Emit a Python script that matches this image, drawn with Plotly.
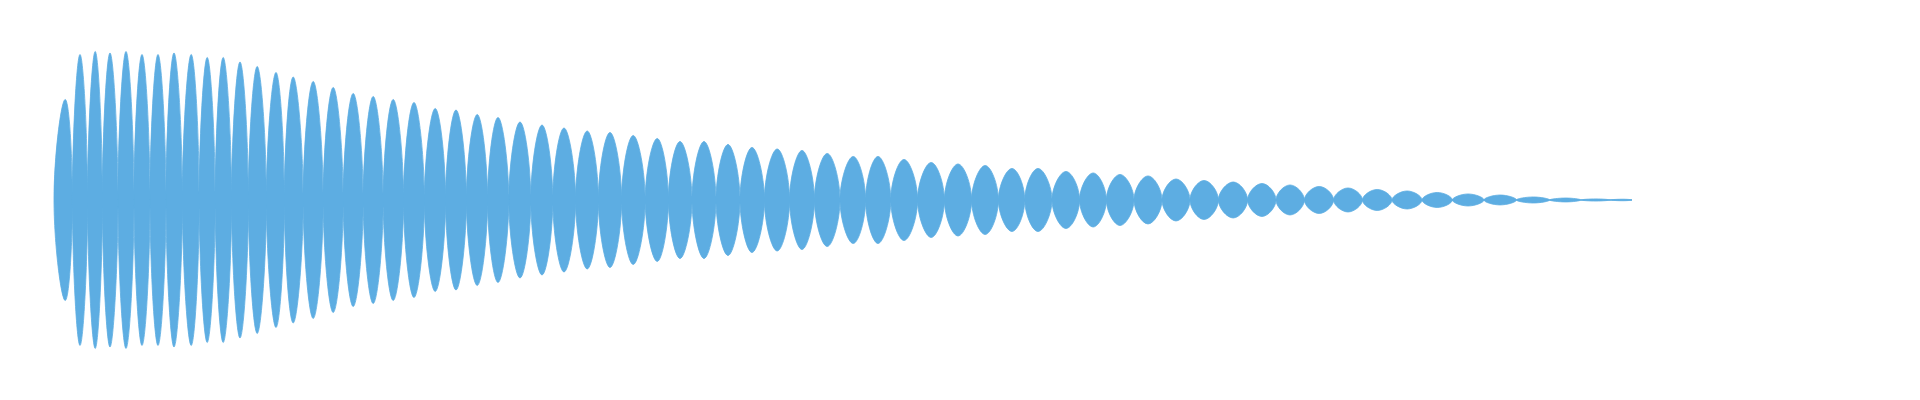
import plotly.graph_objects as go

# envelope: time in ms, amplitude normalised to full scale
peak_ms = [28, 65, 103, 140, 180, 220, 260, 300, 343, 383,
           423, 465, 508, 555, 598, 648, 698, 748, 798, 848,
           900, 953, 1005, 1058, 1110, 1165, 1220, 1275, 1333, 1390,
           1448, 1508, 1565, 1625, 1685, 1745, 1808, 1870, 1933, 1998,
           2060, 2125, 2193, 2260, 2328, 2395, 2460, 2530, 2598, 2665,
           2735, 2805, 2875, 2948, 3020, 3090, 3163, 3235, 3308, 3383,
           3458, 3535, 3615, 3698, 3780, 3855, 3925]
peak_amp = [0.67, 0.97, 0.99, 0.98, 0.99, 0.97, 0.97, 0.98, 0.97, 0.95,
            0.95, 0.92, 0.89, 0.85, 0.82, 0.79, 0.75, 0.71, 0.69, 0.67,
            0.65, 0.61, 0.60, 0.57, 0.55, 0.52, 0.50, 0.48, 0.46, 0.45,
            0.43, 0.41, 0.39, 0.39, 0.37, 0.35, 0.34, 0.33, 0.31, 0.29,
            0.29, 0.27, 0.25, 0.24, 0.23, 0.21, 0.21, 0.19, 0.18, 0.17,
            0.16, 0.14, 0.13, 0.12, 0.11, 0.10, 0.09, 0.08, 0.07, 0.06,
            0.05, 0.04, 0.033, 0.02, 0.013, 0.007, 0.005]
node_ms = [0, 46, 84, 121, 160, 200, 240, 280, 321, 363,
           403, 444, 486, 531, 576, 623, 673, 723, 773, 823,
           874, 926, 979, 1031, 1084, 1137, 1192, 1247, 1304, 1361,
           1419, 1478, 1536, 1595, 1655, 1715, 1776, 1839, 1901, 1965,
           2029, 2092, 2159, 2226, 2294, 2361, 2427, 2495, 2564, 2631,
           2700, 2770, 2840, 2911, 2984, 3055, 3126, 3199, 3271, 3345,
           3420, 3496, 3575, 3656, 3739, 3817, 3890, 3945]
node_amp = [0, 0.055, 0.055, 0.055, 0.055, 0.055, 0.055, 0.055, 0.055, 0.055,
            0.055, 0.055, 0.055, 0.055, 0.045, 0.045, 0.045, 0.045, 0.045, 0.045,
            0.045, 0.035, 0.035, 0.035, 0.035, 0.035, 0.035, 0.035, 0.022, 0.022,
            0.022, 0.022, 0.022, 0.022, 0.022, 0.022, 0.013, 0.013, 0.013, 0.013,
            0.013, 0.013, 0.013, 0.013, 0.007, 0.007, 0.007, 0.007, 0.007, 0.007,
            0.007, 0.007, 0.003, 0.003, 0.003, 0.003, 0.003, 0.003, 0,
            0, 0, 0, 0, 0, 0, 0, 0, 0]

BLUE = "#5DADE2"

# each beat lobe is a closed loop node -> top -> node -> bottom -> node,
# split from the next one by None so every loop is smoothed on its own
lobe_x, lobe_y = [], []
for i in range(len(peak_ms)):
    lobe_x += [node_ms[i], peak_ms[i], node_ms[i + 1], peak_ms[i], node_ms[i], None]
    lobe_y += [0, peak_amp[i], 0, -peak_amp[i], 0, None]

fig = go.Figure()

# thin band left by the carrier around the nodes
fig.add_trace(go.Scatter(x=node_ms + node_ms[::-1],
                         y=node_amp + [-a for a in node_amp[::-1]],
                         fill="toself", fillcolor=BLUE,
                         line=dict(color=BLUE, width=0.8),
                         mode="lines", hoverinfo="skip"))

fig.add_trace(go.Scatter(x=lobe_x, y=lobe_y, mode="lines",
                         fill="toself", fillcolor=BLUE,
                         line=dict(color=BLUE, width=0.8,
                                   shape="spline", smoothing=1.3),
                         connectgaps=False, hoverinfo="skip"))

# ranges allow for the 8px page margin so the wave sits where the original does
fig.update_layout(width=1920, height=400,
                  margin=dict(l=0, r=0, t=0, b=0),
                  paper_bgcolor="white", plot_bgcolor="white",
                  showlegend=False)
fig.update_xaxes(visible=False, range=[-115, 4685])
fig.update_yaxes(visible=False, range=[-1.387, 1.28])

fig.write_html("out.html")
